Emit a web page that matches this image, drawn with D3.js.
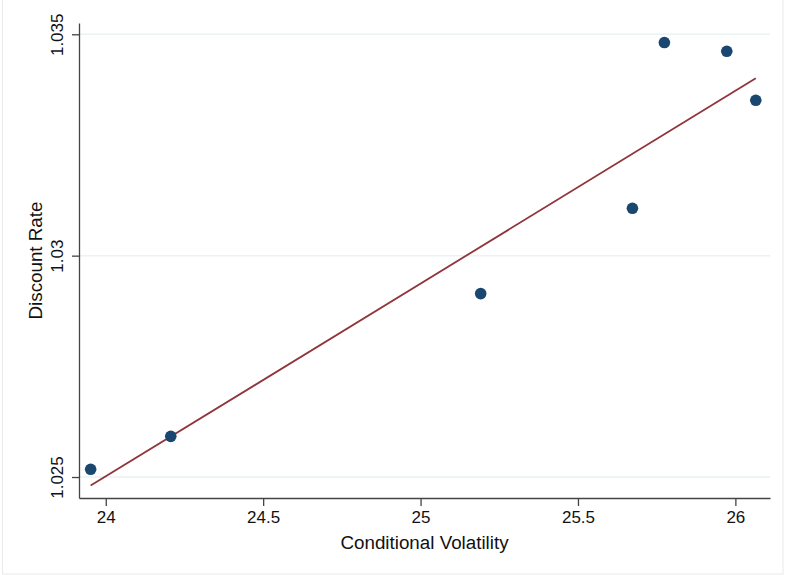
<!DOCTYPE html>
<html>
<head>
<meta charset="utf-8">
<script src="https://cdn.jsdelivr.net/npm/d3@7"></script>
<style>
  html, body { margin: 0; padding: 0; background: #fff; }
  svg { display: block; }
  text { font-family: "Liberation Sans", Arial, Helvetica, sans-serif; fill: #111; }
</style>
</head>
<body>
<svg id="chart" width="789" height="575"></svg>
<script>
// Conditional volatility vs. discount rate, with linear fit
const volatility   = [23.952, 24.2065, 25.191, 25.673, 25.7745, 25.9727, 26.0648];
const discountRate = [1.025174, 1.025919, 1.029143, 1.031070, 1.034813, 1.034616, 1.033509];
const xTicks = [24, 24.5, 25, 25.5, 26];
const yTicks = [1.025, 1.03, 1.035];
// fitted line: rate = fitIntercept + fitSlope * volatility
const fitIntercept = 0.920519;
const fitSlope = 0.004354;

const svg = d3.select("#chart");
const W = 789, H = 575;
const margin = { left: 79, right: 19, top: 23, bottom: 77 };

const x = d3.scaleLinear().domain([23.915, 26.110]).range([margin.left, W - margin.right]);
const y = d3.scaleLinear().domain([1.024526, 1.035255]).range([H - margin.bottom, margin.top]);

// faint frame
svg.append("rect")
  .attr("x", 2.5).attr("y", -2).attr("width", 780.5).attr("height", 576)
  .attr("fill", "none").attr("stroke", "#e9e9e9").attr("stroke-width", 1);

// horizontal gridlines
svg.append("g").selectAll("line").data(yTicks).join("line")
  .attr("x1", x.range()[0]).attr("x2", x.range()[1])
  .attr("y1", d => y(d)).attr("y2", d => y(d))
  .attr("stroke", "#eaf2f3").attr("stroke-width", 1.5);

// x axis
const xAxis = svg.append("g")
  .attr("transform", `translate(0,${y.range()[0]})`)
  .call(d3.axisBottom(x).tickValues(xTicks).tickFormat(d3.format("")).tickSize(8).tickSizeOuter(0).tickPadding(5));
xAxis.select(".domain").attr("stroke", "#444").attr("stroke-width", 1.3);
xAxis.selectAll(".tick line").attr("stroke", "#444").attr("stroke-width", 1.3);
xAxis.selectAll(".tick text").attr("font-size", 17).attr("fill", "#111")
  .attr("font-family", "Liberation Sans, Arial, sans-serif");

// y axis with rotated labels
const yAxis = svg.append("g")
  .attr("transform", `translate(${x.range()[0]},0)`)
  .call(d3.axisLeft(y).tickValues(yTicks).tickFormat(d3.format("")).tickSize(7).tickSizeOuter(0));
yAxis.select(".domain").attr("stroke", "#444").attr("stroke-width", 1.3);
yAxis.selectAll(".tick line").attr("stroke", "#444").attr("stroke-width", 1.3);
yAxis.selectAll(".tick text")
  .attr("font-size", 17).attr("fill", "#111")
  .attr("font-family", "Liberation Sans, Arial, sans-serif")
  .attr("x", null).attr("dy", null)
  .attr("text-anchor", "middle")
  .attr("transform", "translate(-16,0) rotate(-90)");

// fit line across the observed range
const xExt = d3.extent(volatility);
const line = d3.line().x(d => x(d)).y(d => y(fitIntercept + fitSlope * d));
svg.append("path")
  .datum(xExt)
  .attr("d", line)
  .attr("fill", "none")
  .attr("stroke", "#90353b")
  .attr("stroke-width", 1.8);

// scatter points
svg.append("g").selectAll("circle").data(volatility).join("circle")
  .attr("cx", d => x(d))
  .attr("cy", (d, i) => y(discountRate[i]))
  .attr("r", 5.8)
  .attr("fill", "#1a476f");

// axis titles
svg.append("text")
  .attr("x", (x.range()[0] + x.range()[1]) / 2)
  .attr("y", 548.5)
  .attr("text-anchor", "middle")
  .attr("font-size", 18.8)
  .text("Conditional Volatility");

svg.append("text")
  .attr("transform", `translate(41.5,${(y.range()[0] + y.range()[1]) / 2}) rotate(-90)`)
  .attr("text-anchor", "middle")
  .attr("font-size", 18.8)
  .text("Discount Rate");
</script>
</body>
</html>
